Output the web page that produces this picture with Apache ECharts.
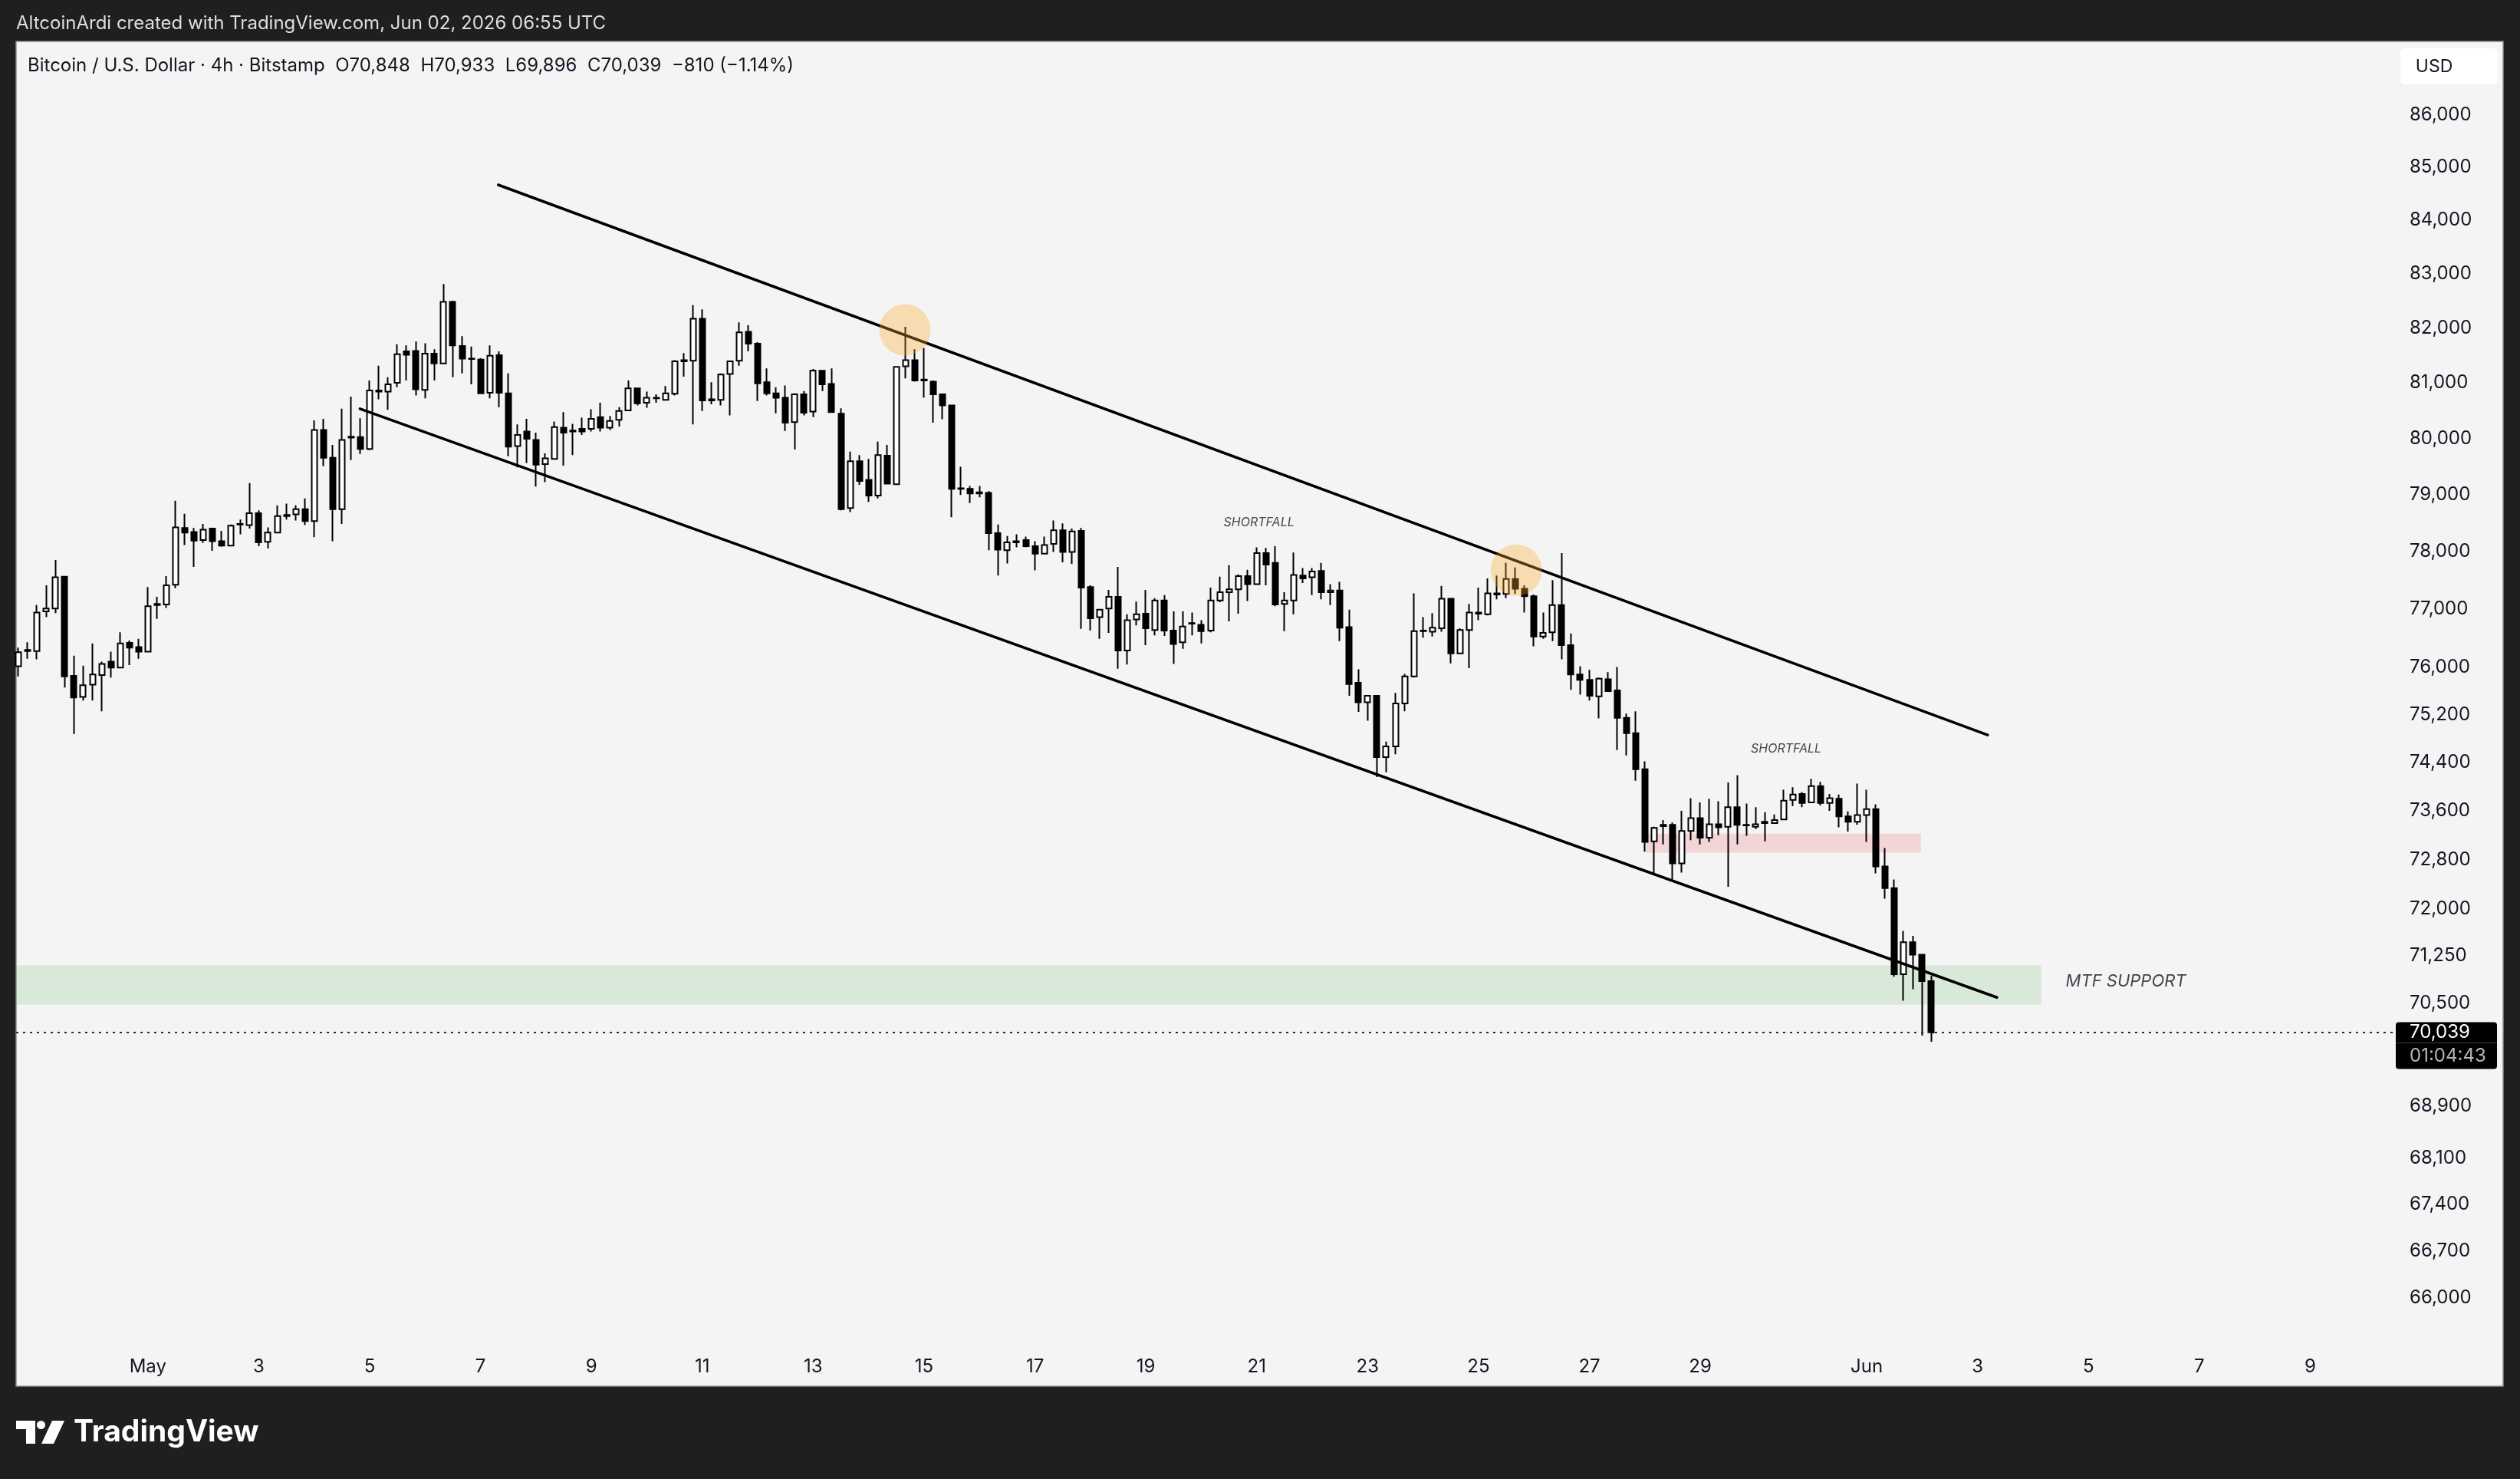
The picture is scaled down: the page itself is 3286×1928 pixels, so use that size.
<!DOCTYPE html>
<html>
<head>
<meta charset="utf-8">
<script src="https://cdn.jsdelivr.net/npm/echarts@6/dist/echarts.min.js"></script>
<style>
  html, body { margin: 0; padding: 0; background: #1f1f1f; }
  #chart { width: 3286px; height: 1928px; }
</style>
</head>
<body>
<div id="chart"></div>
<script>
const FONT = 'Inter, "Noto Sans", sans-serif';
const H4 = 4 * 3600 * 1000;
const T0 = Date.UTC(2026, 3, 28, 16); // first 4h candle, Apr 28 16:00 UTC

// BTC/USD 4h, Bitstamp
const opens = [
  76020, 76280, 76280, 76960, 77010, 77560, 75860, 75500, 75710, 75870,
  76100, 76000, 76420, 76350, 76270, 77070, 77080, 77420, 78410, 78340,
  78200, 78400, 78180, 78100, 78470, 78460, 78670, 78170, 78330, 78620,
  78650, 78740, 78530, 80150, 79650, 78740, 80010, 80020, 79810, 80840,
  80840, 81000, 81570, 81580, 80870, 81530, 81350, 82480, 81670, 81440,
  81420, 80820, 81500, 80810, 79860, 80120, 79970, 79540, 79630, 80190,
  80120, 80170, 80170, 80380, 80190, 80330, 80500, 80900, 80640, 80720,
  80690, 80800, 81390, 81400, 82170, 80680, 80690, 81160, 81400, 81930,
  81710, 81010, 80810, 80730, 80290, 80790, 80480, 81220, 80980, 80440,
  78760, 79590, 79260, 78980, 79690, 79180, 81300, 81410, 81040, 81020,
  80790, 80590, 79100, 79100, 79020, 79030, 78320, 78020, 78160, 78200,
  78090, 77960, 78130, 78370, 77990, 78360, 77380, 76860, 77010, 77210,
  76290, 76820, 76920, 76640, 77150, 76630, 76430, 76750, 76730, 76630,
  77150, 77290, 77340, 77570, 77430, 77970, 77800, 77090, 77150, 77580,
  77550, 77660, 77290, 77320, 76690, 75740, 75410, 75520, 74490, 74670,
  75390, 75850, 76620, 76610, 76670, 77180, 76240, 76640, 76940, 76910,
  77270, 77260, 77520, 77350, 77220, 76530, 76600, 77070, 76380, 75880,
  75790, 75510, 75800, 75610, 75150, 74890, 74290, 73100, 73350, 73370,
  72740, 73270, 73480, 73160, 73380, 73340, 73660, 73370, 73340, 73400,
  73400, 73460, 73780, 73880, 73740, 74010, 73730, 73800, 73510, 73420,
  73530, 73630, 72690, 72340, 70960, 71470, 71270, 70848
];
const highs = [
  76340, 76430, 77070, 77410, 77850, 77570, 76200, 76030, 76410, 76100,
  76270, 76600, 76460, 76490, 77380, 77210, 77570, 78890, 78660, 78410,
  78480, 78410, 78360, 78470, 78560, 79200, 78720, 78420, 78810, 78840,
  78810, 78930, 80320, 80350, 79880, 80530, 80750, 80360, 81040, 81310,
  81100, 81700, 81680, 81750, 81720, 81610, 82810, 82500, 81850, 81660,
  81450, 81680, 81570, 81170, 80250, 80350, 80100, 79730, 80300, 80470,
  80260, 80370, 80520, 80640, 80400, 80560, 81040, 80910, 80840, 80790,
  80940, 81410, 81540, 82420, 82340, 81010, 81170, 81400, 82100, 82050,
  81740, 81260, 80920, 80950, 80810, 80850, 81250, 81230, 81260, 80540,
  79760, 79700, 79630, 79940, 79880, 81300, 82020, 81610, 81630, 81040,
  80800, 80600, 79490, 79150, 79150, 79060, 78470, 78270, 78300, 78260,
  78180, 78260, 78540, 78490, 78400, 78410, 77410, 77000, 77330, 77730,
  76910, 77130, 77330, 77190, 77240, 76960, 76960, 76940, 76810, 77370,
  77560, 77760, 77600, 77680, 78070, 78060, 78090, 77290, 77980, 77710,
  77710, 77800, 77430, 77470, 76990, 75970, 75530, 75530, 74750, 75570,
  75890, 77270, 76860, 76930, 77400, 77190, 76670, 77090, 77370, 77530,
  77580, 77800, 77720, 77410, 77250, 76940, 77500, 77970, 76580, 76020,
  75960, 75830, 75920, 76010, 75220, 75260, 74420, 73340, 73450, 73410,
  73600, 73810, 73740, 73800, 73760, 74070, 74190, 73720, 73660, 73580,
  73540, 73950, 73990, 73910, 74130, 74080, 73880, 73870, 73590, 74050,
  73950, 73710, 72990, 72480, 71650, 71570, 71280, 70933
];
const lows = [
  75850, 76150, 76140, 76860, 76930, 75660, 74880, 75440, 75440, 75260,
  75830, 75990, 76040, 76150, 76260, 76830, 77020, 77360, 78110, 77730,
  78150, 78010, 78080, 78090, 78300, 78400, 78090, 78050, 78320, 78560,
  78540, 78460, 78250, 79500, 78180, 78480, 79610, 79720, 79790, 80700,
  80510, 80920, 81040, 80770, 80720, 81040, 81340, 81100, 81170, 80970,
  80800, 80720, 80560, 79680, 79480, 79560, 79140, 79220, 79620, 79510,
  79700, 80060, 80120, 80120, 80150, 80210, 80490, 80590, 80550, 80640,
  80680, 80770, 81110, 80250, 80490, 80610, 80590, 80410, 81310, 81570,
  80670, 80770, 80450, 80130, 79800, 80410, 80380, 80850, 80460, 78720,
  78690, 79170, 78870, 78930, 79180, 79170, 81080, 81020, 80730, 80280,
  80340, 78600, 78990, 78850, 78950, 78020, 77580, 77790, 78070, 78070,
  77670, 77950, 77990, 77810, 77780, 76660, 76630, 76490, 76590, 75980,
  76050, 76720, 76380, 76550, 76540, 76060, 76320, 76550, 76410, 76600,
  77120, 76790, 76920, 77140, 77430, 77410, 77050, 76620, 76910, 77450,
  77240, 77170, 77070, 76450, 75520, 75250, 75100, 74160, 74240, 74540,
  75260, 75830, 76510, 76530, 76610, 76070, 76230, 75990, 76810, 76890,
  77170, 77190, 77260, 76940, 76360, 76490, 76450, 76140, 75620, 75540,
  75440, 75140, 75590, 74610, 74520, 74100, 72930, 72580, 73050, 72480,
  72590, 73120, 73050, 73090, 73200, 72360, 73050, 73190, 73300, 73100,
  73390, 73450, 73680, 73660, 73730, 73690, 73600, 73330, 73260, 73370,
  73090, 72580, 72170, 70920, 70540, 70720, 69990, 69896
];
const closes = [
  76260, 76300, 76940, 77010, 77550, 75850, 75490, 75700, 75880, 76060,
  76000, 76410, 76340, 76270, 77050, 77090, 77410, 78420, 78330, 78190,
  78380, 78180, 78100, 78450, 78480, 78670, 78160, 78330, 78620, 78640,
  78740, 78530, 80150, 79650, 78740, 79970, 80030, 79810, 80860, 80860,
  80970, 81520, 81510, 80880, 81530, 81350, 82480, 81680, 81440, 81430,
  80810, 81490, 80820, 79850, 80060, 79990, 79530, 79640, 80200, 80100,
  80140, 80120, 80350, 80190, 80310, 80490, 80900, 80630, 80730, 80730,
  80810, 81390, 81410, 82170, 80680, 80700, 81150, 81390, 81920, 81710,
  80990, 80810, 80730, 80280, 80790, 80460, 81220, 80970, 80470, 78740,
  79590, 79240, 78980, 79700, 79190, 81290, 81410, 81040, 81060, 80790,
  80590, 79100, 79110, 79020, 79040, 78320, 78030, 78160, 78180, 78090,
  77960, 78110, 78370, 77990, 78350, 77370, 76840, 76990, 77210, 76290,
  76810, 76910, 76670, 77150, 76630, 76400, 76700, 76760, 76620, 77150,
  77290, 77340, 77570, 77430, 77970, 77770, 77080, 77150, 77590, 77530,
  77650, 77290, 77320, 76680, 75720, 75410, 75520, 74490, 74670, 75390,
  75850, 76620, 76630, 76680, 77180, 76240, 76640, 76940, 76920, 77270,
  77250, 77520, 77350, 77220, 76530, 76590, 77070, 76380, 75880, 75790,
  75520, 75810, 75600, 75150, 74890, 74290, 73090, 73320, 73370, 72740,
  73270, 73480, 73160, 73380, 73330, 73660, 73370, 73360, 73380, 73420,
  73450, 73770, 73870, 73730, 74010, 73730, 73810, 73510, 73420, 73530,
  73630, 72690, 72340, 70960, 71470, 71270, 70850, 70039
];

const priceTicks = [86000, 85000, 84000, 83000, 82000, 81000, 80000, 79000, 78000, 77000,
  76000, 75200, 74400, 73600, 72800, 72000, 71250, 70500, 68900, 68100, 67400, 66700, 66000];
const dayTickDates = ['2026-05-01', '2026-05-03', '2026-05-05', '2026-05-07', '2026-05-09',
  '2026-05-11', '2026-05-13', '2026-05-15', '2026-05-17', '2026-05-19', '2026-05-21',
  '2026-05-23', '2026-05-25', '2026-05-27', '2026-05-29', '2026-06-01', '2026-06-03',
  '2026-06-05', '2026-06-07', '2026-06-09'];
const dayTickLabels = ['May', '3', '5', '7', '9', '11', '13', '15', '17', '19', '21',
  '23', '25', '27', '29', 'Jun', '3', '5', '7', '9'];
const lastPrice = 70039;
const countdown = '01:04:43';
const legendText = 'Bitcoin / U.S. Dollar \u00b7 4h \u00b7 Bitstamp  O70,848  H70,933  L69,896  C70,039  \u2212810 (\u22121.14%)';

// drawings, anchored as [candles after T0, price]
const channelTop = [[51.92, 84667], [213.1, 74860]];
const channelBottom = [[36.95, 80531], [214.1, 70591]];
const touchPoints = [[95.93, 81964], [162.09, 77672]];
const supplyZone = [[176.09, 73227], [205.88, 72916]];
const supportZone = [[-0.26, 71099], [218.9, 70479]];
const noteTexts = ['SHORTFALL', 'SHORTFALL', 'MTF SUPPORT'];
const noteAnchors = [[134.24, 78511], [191.29, 74626], [221.5, 70843]];

const at = k => T0 + k * H4;
const pt = ([k, p]) => [at(k), p];
const dayTickTimes = dayTickDates.map(d => Date.parse(d + 'T00:00:00Z'));
const fmtPrice = v => Math.round(v).toLocaleString('en-US');

const chart = echarts.init(document.getElementById('chart'), null, { renderer: 'canvas' });

chart.setOption({
  animation: false,
  backgroundColor: '#1f1f1f',
  textStyle: { fontFamily: FONT },
  grid: { left: 21, right: 166, top: 54, bottom: 176, containLabel: false, outerBoundsMode: 'none' },
  xAxis: {
    type: 'value',
    min: at(-0.26),
    max: at(256.93),
    axisLine: { show: false },
    axisTick: { show: false },
    splitLine: { show: false },
    axisLabel: {
      customValues: dayTickTimes,
      margin: 18,
      fontSize: 24,
      fontFamily: FONT,
      color: '#131722',
      formatter: v => {
        const idx = dayTickTimes.indexOf(Math.round(v));
        return idx >= 0 ? dayTickLabels[idx] : '';
      }
    }
  },
  yAxis: {
    type: 'log',
    logBase: 10,
    position: 'right',
    min: 65324,
    max: 87429,
    axisLine: { show: false },
    axisTick: { show: false },
    splitLine: { show: false },
    axisLabel: {
      customValues: priceTicks.concat([lastPrice]),
      margin: 4,
      formatter: v => Math.round(v) === lastPrice
        ? '{s| }\n{a|' + fmtPrice(v) + '}\n{b|' + countdown + '}'
        : '{n|' + fmtPrice(v) + '}',
      rich: {
        n: { fontSize: 24, fontFamily: FONT, color: '#131722', padding: [0, 0, 0, 18] },
        s: { fontSize: 24, height: 34, lineHeight: 34 },
        a: {
          fontSize: 24, fontFamily: FONT, color: '#ffffff', backgroundColor: '#000000',
          width: 114, height: 27, lineHeight: 27, padding: [0, 0, 0, 18], borderRadius: [4, 4, 0, 0]
        },
        b: {
          fontSize: 24, fontFamily: FONT, color: '#b2b5be', backgroundColor: '#000000',
          width: 114, height: 34, lineHeight: 34, padding: [0, 0, 0, 18], borderRadius: [0, 0, 4, 4]
        }
      }
    }
  },
  series: [
    {
      name: 'zones',
      type: 'line',
      data: [],
      z: 1,
      silent: true,
      markArea: {
        silent: true,
        data: [
          [{ coord: pt(supplyZone[0]), itemStyle: { color: 'rgba(242, 54, 69, 0.16)' } }, { coord: pt(supplyZone[1]) }],
          [{ coord: pt(supportZone[0]), itemStyle: { color: 'rgba(76, 175, 80, 0.16)' } }, { coord: pt(supportZone[1]) }]
        ]
      }
    },
    {
      name: 'BTCUSD',
      type: 'candlestick',
      z: 3,
      barWidth: 7.5,
      data: opens.map((o, i) => [at(i), o, closes[i], lows[i], highs[i]]),
      itemStyle: {
        color: '#ffffff',
        color0: '#000000',
        borderColor: '#000000',
        borderColor0: '#000000',
        borderColorDoji: '#000000',
        borderWidth: 2
      },
      markLine: {
        silent: true,
        symbol: ['none', 'none'],
        label: { show: false },
        lineStyle: { color: '#2a2a2a', width: 2, type: [3, 6] },
        data: [{ yAxis: lastPrice }]
      }
    },
    {
      name: 'channel top',
      type: 'line',
      z: 4,
      silent: true,
      symbol: 'none',
      lineStyle: { color: '#000000', width: 3.5, cap: 'round' },
      data: channelTop.map(pt)
    },
    {
      name: 'channel bottom',
      type: 'line',
      z: 4,
      silent: true,
      symbol: 'none',
      lineStyle: { color: '#000000', width: 3.5, cap: 'round' },
      data: channelBottom.map(pt)
    },
    {
      name: 'touches',
      type: 'scatter',
      z: 5,
      silent: true,
      symbolSize: 67,
      itemStyle: { color: 'rgba(255, 167, 38, 0.4)' },
      data: touchPoints.map(pt)
    },
    {
      name: 'notes',
      type: 'scatter',
      z: 6,
      silent: true,
      symbolSize: 1,
      itemStyle: { color: 'rgba(0,0,0,0)' },
      label: {
        show: true,
        formatter: p => p.name,
        fontFamily: FONT,
        fontStyle: 'italic',
        color: '#131722'
      },
      data: noteTexts.map((t, i) => ({
        name: t,
        value: pt(noteAnchors[i]),
        label: t === 'MTF SUPPORT'
          ? { position: 'right', distance: 0, fontSize: 22 }
          : { position: 'inside', fontSize: 16 }
      }))
    }
  ],
  graphic: [
    {
      type: 'rect', z: -10, silent: true,
      shape: { x: 21, y: 54, width: 3243, height: 1753 },
      style: { fill: '#f4f4f4', stroke: '#8f8f8f', lineWidth: 1.5 }
    },
    {
      type: 'text', silent: true,
      style: {
        text: 'AltcoinArdi created with TradingView.com, Jun 02, 2026 06:55 UTC',
        x: 21, y: 31, fill: '#dedede', fontSize: 24, fontFamily: FONT, textVerticalAlign: 'middle'
      }
    },
    {
      type: 'text', silent: true,
      style: {
        text: legendText,
        x: 36, y: 86, fill: '#131722', fontSize: 24, fontFamily: FONT, textVerticalAlign: 'middle'
      }
    },
    {
      type: 'rect', silent: true,
      shape: { x: 3130, y: 63, width: 127, height: 47, r: 6 },
      style: { fill: '#ffffff' }
    },
    {
      type: 'text', silent: true,
      style: {
        text: 'USD', x: 3174, y: 87, fill: '#131722', fontSize: 23, fontFamily: FONT,
        textAlign: 'center', textVerticalAlign: 'middle'
      }
    },
    // TradingView logo
    {
      type: 'polygon', silent: true,
      shape: { points: [[21, 1852], [46, 1852], [46, 1882], [34, 1882], [34, 1863], [21, 1863]] },
      style: { fill: '#ffffff' }
    },
    { type: 'circle', silent: true, shape: { cx: 53.5, cy: 1857.5, r: 5.5 }, style: { fill: '#ffffff' } },
    {
      type: 'polygon', silent: true,
      shape: { points: [[68, 1852], [84, 1852], [70, 1882], [54, 1882]] },
      style: { fill: '#ffffff' }
    },
    {
      type: 'text', silent: true,
      style: {
        text: 'TradingView', x: 96, y: 1867, fill: '#ffffff', fontSize: 39, fontWeight: 'bold',
        fontFamily: FONT, textVerticalAlign: 'middle'
      }
    }
  ]
});
</script>
</body>
</html>
